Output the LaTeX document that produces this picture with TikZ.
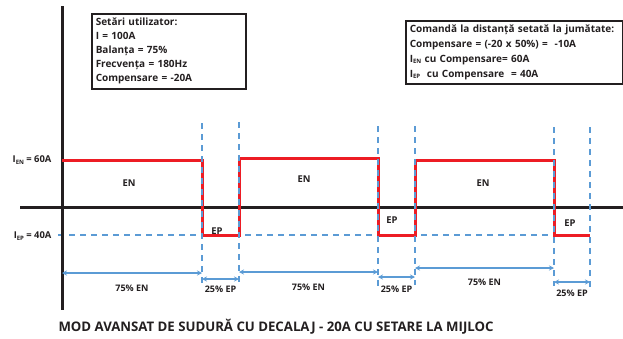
\documentclass[tikz,border=0pt]{standalone}
\usepackage{fontspec}
\setmainfont{Open Sans}
\usetikzlibrary{arrows.meta, positioning}
\usepackage{xcolor}
\definecolor{weldred}{RGB}{237, 28, 36}
\definecolor{guideblue}{RGB}{91, 155, 213}
\definecolor{axisblack}{RGB}{35, 31, 32}
\newcommand{\lowidx}[1]{\raisebox{-1.5pt}{\fontsize{6}{6}\selectfont #1}}

\begin{document}
\begin{tikzpicture}[
    x=1pt, y=-1pt,
    axis/.style={line width=3pt, axisblack},
    wave/.style={line width=3pt, weldred},
    guide/.style={guideblue, line width=1.4pt, dash pattern=on 6pt off 5pt},
    dim/.style={<->, >={Stealth[length=5pt, width=5pt]}, guideblue, line width=1.4pt},
    infobox/.style={draw=axisblack, line width=1.5pt, text=axisblack, align=left, inner sep=4pt, anchor=north west, font=\fontsize{10}{14}\selectfont\bfseries},
    lbl/.style={text=axisblack, font=\fontsize{9.4}{10}\selectfont\bfseries},
    dimlbl/.style={text=axisblack, font=\fontsize{9}{10}\selectfont\bfseries}
]
\useasboundingbox (0,0) rectangle (623,338);

% Time marks
\foreach \n/\x in {0/62, 1/202, 2/239, 3/378, 4/415, 5/554, 6/590}
    \coordinate (t\n) at (\x,207);

% Settings
\node[infobox, text width=146pt, minimum height=75pt] (settings) at (91,13)
    {Setări utilizator:\\I = 100A\\Balanța = 75\%\\Frecvența = 180Hz\\Compensare = -20A};
\node[infobox, text width=209pt, minimum height=63pt, font=\fontsize{10}{15}\selectfont\bfseries] (remote) at (405,20)
    {Comandă la distanță setată la jumătate:\\Compensare = (-20 x 50\%) = \ -10A\\I\lowidx{EN} cu Compensare= 60A\\I\lowidx{EP} \ cu Compensare \ = 40A};

% Axes
\draw[guide] (58,235) -- (t6 |- 0,235);
\draw[axis] (62,6) -- (62,310);
\draw[axis] (20,207) -- (623,207);

% Waveform
\draw[wave] (t0 |- 0,160) -- (t1 |- 0,160) -- (t1 |- 0,235) -- (t2 |- 0,235)
    -- (t2 |- 0,158) -- (t3 |- 0,158) -- (t3 |- 0,235) -- (t4 |- 0,235)
    -- (t4 |- 0,160) -- (t5 |- 0,160) -- (t5 |- 0,235) -- (t6 |- 0,235);

% Period marks
\foreach \n/\top/\bot in {1/123/285, 2/122/282, 3/126/288, 4/126/285, 5/127/286, 6/127/287}
    \draw[guide] (t\n |- 0,\top) -- (t\n |- 0,\bot);

% Levels
\node[lbl, anchor=east] (ien) at (55,160) {I\lowidx{EN} = 60A};
\node[lbl, anchor=east] (iep) at (55,236) {I\lowidx{EP} = 40A};

\node[lbl] (en1) at (129,183) {EN};
\node[lbl] (en2) at (304,179) {EN};
\node[lbl] (en3) at (483,183) {EN};
\node[lbl] (ep1) at (217,231) {EP};
\node[lbl] (ep2) at (392,220) {EP};
\node[lbl] (ep3) at (570,223) {EP};

% Balance
\draw[dim] (t0 |- 0,273) -- node[dimlbl, yshift=-15pt] (bal1) {75\% EN} (t1 |- 0,273);
\draw[dim] (t1 |- 0,279) -- node[dimlbl, yshift=-10pt] (bal2) {25\% EP} (t2 |- 0,279);
\draw[dim] (t2 |- 0,272) -- node[dimlbl, yshift=-15pt] (bal3) {75\% EN} (t3 |- 0,272);
\draw[dim] (t3 |- 0,277) -- node[dimlbl, yshift=-12pt] (bal4) {25\% EP} (t4 |- 0,277);
\draw[dim] (t4 |- 0,268) -- node[dimlbl, yshift=-14pt] (bal5) {75\% EN} (t5 |- 0,268);
\draw[dim] (t5 |- 0,282) -- node[dimlbl, yshift=-11pt] (bal6) {25\% EP} (t6 |- 0,282);

% Title
\node[anchor=west, text=axisblack, font=\fontsize{13.2}{15}\selectfont\bfseries] (title) at (55,327)
    {MOD AVANSAT DE SUDURĂ CU DECALAJ - 20A CU SETARE LA MIJLOC};

\end{tikzpicture}
\end{document}
